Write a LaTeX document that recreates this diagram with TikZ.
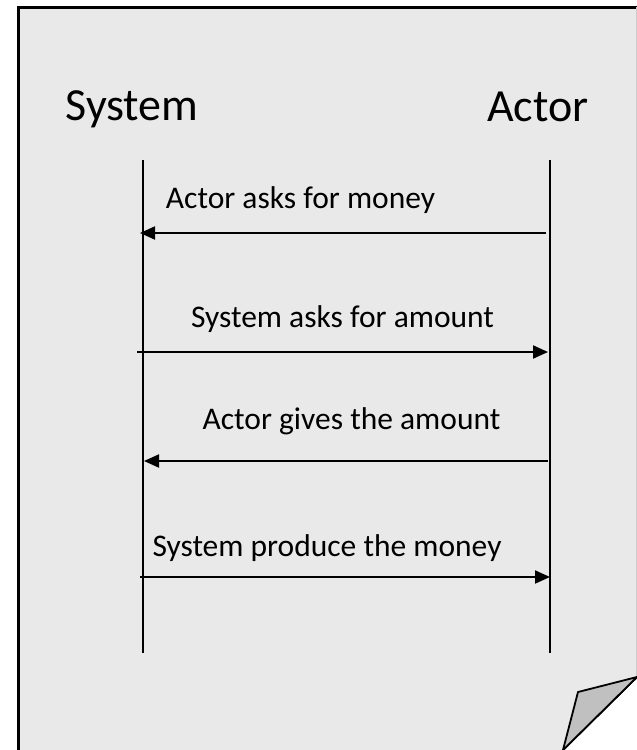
\documentclass[tikz,border=0pt]{standalone}
\usepackage{fontspec}
\setmainfont{Carlito}
\usetikzlibrary{arrows.meta}
\definecolor{paper}{HTML}{E9E9E9}
\definecolor{foldgray}{HTML}{C0C0C0}
\begin{document}
\begin{tikzpicture}[x=1pt,y=-1pt,
  title/.style={anchor=base,inner sep=0pt,font=\fontsize{46}{50}\selectfont},
  msgtext/.style={anchor=base,inner sep=0pt,font=\fontsize{31.5}{36}\selectfont},
  lifeline/.style={line width=1.4pt},
  msg/.style={line width=2pt,-{Triangle[length=15pt,width=13pt]}}]
\useasboundingbox (0,0) rectangle (637,750);
% sheet of paper with a turned-up corner
\fill[paper] (18,7) -- (637,7) -- (637,677) -- (563,750) -- (18,750) -- cycle;
\draw[line width=3pt] (18,750) -- (18,7) -- (637,7);
\draw[gray!40,line width=0.6pt] (636.5,7) -- (636.5,677);
\draw[line width=1.8pt] (637,677) -- (563,750);
\filldraw[fill=foldgray,line width=1.8pt,line join=round] (637,677) -- (578,692) -- (563,750) -- cycle;
% lifeline heads
\node[title] (sys) at (132,120) {System};
\node[title] (act) at (538,121) {Actor};
% lifelines
\coordinate (sysTop) at (143,160);
\coordinate (sysBot) at (143,653);
\coordinate (actTop) at (550,160);
\coordinate (actBot) at (550,653);
\draw[lifeline] (sysTop) -- (sysBot);
\draw[lifeline] (actTop) -- (actBot);
% message end points
\coordinate (m1a) at (546,233); \coordinate (m1b) at (140,233);
\coordinate (m2a) at (137,352); \coordinate (m2b) at (548,352);
\coordinate (m3a) at (548,461); \coordinate (m3b) at (144,461);
\coordinate (m4a) at (140,577); \coordinate (m4b) at (550,577);
\draw[msg] (m1a) -- (m1b);
\draw[msg] (m2a) -- (m2b);
\draw[msg] (m3a) -- (m3b);
\draw[msg] (m4a) -- (m4b);
% message labels
\node[msgtext] (t1) at (300.5,208) {Actor asks for money};
\node[msgtext] (t2) at (342.5,327) {System asks for amount};
\node[msgtext] (t3) at (351.5,429) {Actor gives the amount};
\node[msgtext] (t4) at (327,556) {System produce the money};
\end{tikzpicture}
\end{document}
